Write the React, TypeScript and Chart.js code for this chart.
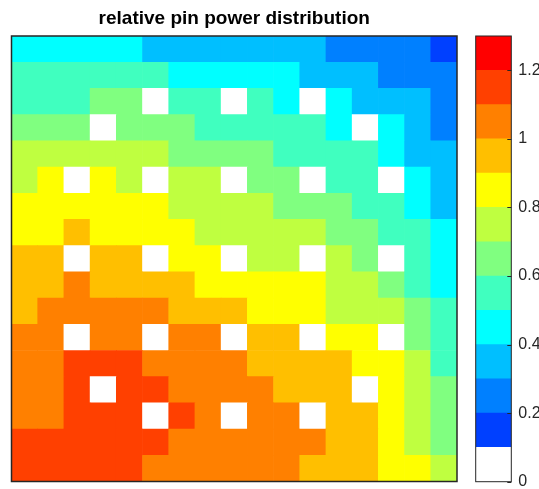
import React, { useEffect, useRef } from 'react';
import { Chart, registerables } from 'chart.js';

Chart.register(...registerables);

// ---------- data ----------
const TITLE = 'relative pin power distribution';

// 17 x 17 fuel assembly, pin columns left to right
const COLUMNS = ['1', '2', '3', '4', '5', '6', '7', '8', '9', '10', '11', '12', '13', '14', '15', '16', '17'];

// relative pin power, rows listed from top to bottom (0 = guide tube, shown white)
const POWER: number[][] = [
  [0.45, 0.45, 0.45, 0.45, 0.45, 0.35, 0.35, 0.35, 0.35, 0.35, 0.35, 0.35, 0.25, 0.25, 0.25, 0.25, 0.15],
  [0.55, 0.55, 0.55, 0.55, 0.55, 0.55, 0.45, 0.45, 0.45, 0.45, 0.45, 0.35, 0.35, 0.35, 0.25, 0.25, 0.25],
  [0.55, 0.55, 0.55, 0.65, 0.65, 0, 0.55, 0.55, 0, 0.55, 0.45, 0, 0.45, 0.35, 0.35, 0.35, 0.25],
  [0.65, 0.65, 0.65, 0, 0.65, 0.65, 0.65, 0.55, 0.55, 0.55, 0.55, 0.55, 0.45, 0, 0.45, 0.35, 0.25],
  [0.75, 0.75, 0.75, 0.75, 0.75, 0.75, 0.65, 0.65, 0.65, 0.65, 0.55, 0.55, 0.55, 0.55, 0.45, 0.35, 0.35],
  [0.75, 0.85, 0, 0.85, 0.75, 0, 0.75, 0.75, 0, 0.65, 0.65, 0, 0.55, 0.55, 0, 0.45, 0.35],
  [0.85, 0.85, 0.85, 0.85, 0.85, 0.85, 0.75, 0.75, 0.75, 0.75, 0.65, 0.65, 0.65, 0.55, 0.55, 0.45, 0.35],
  [0.85, 0.85, 0.95, 0.85, 0.85, 0.85, 0.85, 0.75, 0.75, 0.75, 0.75, 0.75, 0.65, 0.65, 0.55, 0.55, 0.45],
  [0.95, 0.95, 0, 0.95, 0.95, 0, 0.85, 0.85, 0, 0.75, 0.75, 0, 0.75, 0.65, 0, 0.55, 0.45],
  [0.95, 0.95, 1.05, 0.95, 0.95, 0.95, 0.95, 0.85, 0.85, 0.85, 0.85, 0.85, 0.75, 0.75, 0.65, 0.55, 0.45],
  [0.95, 1.05, 1.05, 1.05, 1.05, 1.05, 0.95, 0.95, 0.95, 0.85, 0.85, 0.85, 0.75, 0.75, 0.75, 0.65, 0.55],
  [1.05, 1.05, 0, 1.05, 1.05, 0, 1.05, 1.05, 0, 0.95, 0.95, 0, 0.85, 0.85, 0, 0.65, 0.55],
  [1.05, 1.05, 1.15, 1.15, 1.15, 1.05, 1.05, 1.05, 1.05, 0.95, 0.95, 0.95, 0.95, 0.85, 0.85, 0.75, 0.55],
  [1.05, 1.05, 1.15, 0, 1.15, 1.15, 1.05, 1.05, 1.05, 1.05, 0.95, 0.95, 0.95, 0, 0.85, 0.75, 0.65],
  [1.05, 1.05, 1.15, 1.15, 1.15, 0, 1.15, 1.05, 0, 1.05, 1.05, 0, 0.95, 0.95, 0.85, 0.75, 0.65],
  [1.15, 1.15, 1.15, 1.15, 1.15, 1.15, 1.05, 1.05, 1.05, 1.05, 1.05, 1.05, 0.95, 0.95, 0.85, 0.75, 0.65],
  [1.15, 1.15, 1.15, 1.15, 1.15, 1.05, 1.05, 1.05, 1.05, 1.05, 1.05, 0.95, 0.95, 0.95, 0.85, 0.85, 0.75],
];

// colour levels (lower bounds) and their colours
const LEVEL_BOUNDS = [0, 0.1, 0.2, 0.3, 0.4, 0.5, 0.6, 0.7, 0.8, 0.9, 1.0, 1.1, 1.2, 1.3];
const LEVEL_COLORS = [
  '#FFFFFF', '#0040FF', '#0080FF', '#00BFFF', '#00FFFF', '#40FFBF', '#80FF80',
  '#BFFF40', '#FFFF00', '#FFBF00', '#FF8000', '#FF4000', '#FF0000',
];

const CBAR_TICKS = [0, 0.2, 0.4, 0.6, 0.8, 1, 1.2];
const CBAR_TICK_LABELS = ['0', '0.2', '0.4', '0.6', '0.8', '1', '1.2'];

// ---------- helpers ----------
const FRAME = '#262626';
const FONT = "'Liberation Sans', Arial, Helvetica, sans-serif";

function colorFor(v: number): string {
  for (let i = LEVEL_COLORS.length - 1; i >= 0; i--) {
    if (v >= LEVEL_BOUNDS[i] - 1e-9) return LEVEL_COLORS[i];
  }
  return LEVEL_COLORS[0];
}

const framePlugin = (lineWidth: number) => ({
  id: 'frame',
  afterDatasetsDraw(chart: any) {
    const { ctx, chartArea: a } = chart;
    ctx.save();
    ctx.strokeStyle = FRAME;
    ctx.lineWidth = lineWidth;
    ctx.strokeRect(a.left, a.top, a.right - a.left, a.bottom - a.top);
    ctx.restore();
  },
});

const cbarTickPlugin = {
  id: 'cbarTicks',
  afterDatasetsDraw(chart: any) {
    const { ctx, chartArea: a } = chart;
    const y = chart.scales.y;
    ctx.save();
    ctx.strokeStyle = FRAME;
    ctx.lineWidth = 1;
    CBAR_TICKS.forEach((t) => {
      const py = Math.round(y.getPixelForValue(t)) + 0.5;
      ctx.beginPath();
      ctx.moveTo(a.right - 4, py);
      ctx.lineTo(a.right, py);
      ctx.stroke();
    });
    ctx.restore();
  },
};

export default function App() {
  const mapRef = useRef<HTMLCanvasElement | null>(null);
  const barRef = useRef<HTMLCanvasElement | null>(null);

  useEffect(() => {
    if (!mapRef.current || !barRef.current) return;

    // heat map: one stacked bar dataset per pin row (bottom row first)
    const rowsBottomUp = POWER.slice().reverse();
    const mapChart = new Chart(mapRef.current, {
      type: 'bar',
      data: {
        labels: COLUMNS,
        datasets: rowsBottomUp.map((row, i) => ({
          label: 'row ' + (POWER.length - i),
          data: row.map(() => 1),
          backgroundColor: row.map(colorFor),
          borderWidth: 0,
          barPercentage: 1,
          categoryPercentage: 1,
        })),
      },
      options: {
        animation: false,
        responsive: false,
        devicePixelRatio: 1,
        events: [],
        layout: { padding: { left: 11.5, right: 470 - 457, top: 0, bottom: 489 - 481.5 } },
        scales: {
          x: { display: false, stacked: true },
          y: { display: false, stacked: true, min: 0, max: POWER.length },
        },
        plugins: {
          legend: { display: false },
          tooltip: { enabled: false },
          title: {
            display: true,
            text: TITLE,
            color: '#000000',
            font: { family: FONT, size: 19, weight: 'bold', lineHeight: 1.2 },
            padding: { top: 7.6, bottom: 5.6 },
          },
        },
      },
      plugins: [framePlugin(1.5)],
    } as any);

    // colour bar: one stacked bar, one dataset per level
    const barChart = new Chart(barRef.current, {
      type: 'bar',
      data: {
        labels: ['levels'],
        datasets: LEVEL_COLORS.map((c, i) => ({
          label: String(LEVEL_BOUNDS[i]),
          data: [LEVEL_BOUNDS[i + 1] - LEVEL_BOUNDS[i]],
          backgroundColor: c,
          borderWidth: 0,
          barPercentage: 1,
          categoryPercentage: 1,
        })),
      },
      options: {
        animation: false,
        responsive: false,
        devicePixelRatio: 1,
        events: [],
        layout: { padding: { left: 15.7, right: 0, top: 36, bottom: 510 - 481.7 } },
        scales: {
          x: { display: false, stacked: true },
          y: {
            position: 'right',
            stacked: true,
            min: 0,
            max: LEVEL_BOUNDS[LEVEL_BOUNDS.length - 1],
            grid: { display: false, drawTicks: false },
            border: { display: false },
            afterBuildTicks: (scale: any) => {
              scale.ticks = CBAR_TICKS.map((v) => ({ value: v }));
            },
            afterFit: (scale: any) => {
              scale.width = 120 - 51.3;
            },
            ticks: {
              padding: 7,
              color: FRAME,
              font: { family: FONT, size: 16 },
              callback: (v: any) => {
                const idx = CBAR_TICKS.findIndex((t) => Math.abs(t - Number(v)) < 1e-9);
                return idx >= 0 ? CBAR_TICK_LABELS[idx] : '';
              },
            },
          },
        },
        plugins: {
          legend: { display: false },
          tooltip: { enabled: false },
          title: { display: false },
        },
      },
      plugins: [framePlugin(1), cbarTickPlugin],
    } as any);

    return () => {
      mapChart.destroy();
      barChart.destroy();
    };
  }, []);

  return (
    <div
      style={{
        position: 'absolute',
        left: 0,
        top: 0,
        width: 539,
        height: 489,
        overflow: 'hidden',
        background: '#ffffff',
      }}
    >
      <canvas
        ref={mapRef}
        width={470}
        height={489}
        style={{ position: 'absolute', left: 0, top: 0, width: 470, height: 489 }}
      />
      <canvas
        ref={barRef}
        width={120}
        height={510}
        style={{ position: 'absolute', left: 460, top: 0, width: 120, height: 510 }}
      />
    </div>
  );
}
